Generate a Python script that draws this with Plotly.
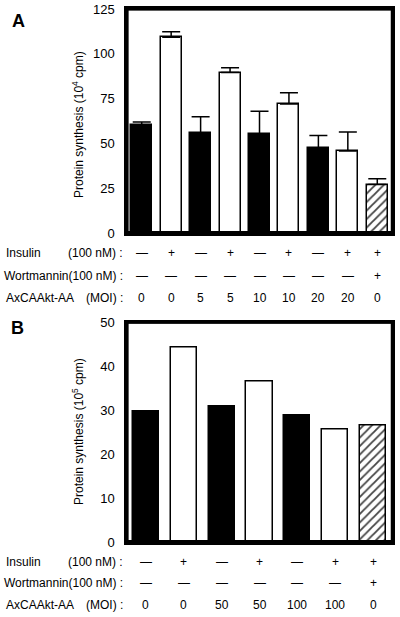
import plotly.graph_objects as go

# ---------------- data ----------------
a_values = [60, 109.3, 55.7, 89.5, 55, 72, 47.2, 45.8, 27]
a_errors = [2, 3, 9.2, 2.7, 13, 6.3, 7.2, 10.5, 3.3]
a_insulin = ["—", "+", "—", "+", "—", "+", "—", "+", "+"]
a_wort = ["—", "—", "—", "—", "—", "—", "—", "—", "+"]
a_moi = ["0", "0", "5", "5", "10", "10", "20", "20", "0"]
a_kind = ["solid", "open", "solid", "open", "solid", "open", "solid", "open", "hatch"]
a_ticks = [0, 25, 50, 75, 100, 125]

b_values = [29.7, 44.2, 30.8, 36.6, 28.8, 25.7, 26.6]
b_insulin = ["—", "+", "—", "+", "—", "+", "+"]
b_wort = ["—", "—", "—", "—", "—", "—", "+"]
b_moi = ["0", "0", "50", "50", "100", "100", "0"]
b_kind = ["solid", "open", "solid", "open", "solid", "open", "hatch"]
b_ticks = [0, 10, 20, 30, 40, 50]

FONT = "Liberation Sans, Arial, Helvetica, sans-serif"
W, H = 400, 617

def px_x(p):
    return p / W

def px_y(p):
    return 1 - p / H

fill_map = {"solid": "black", "open": "white", "hatch": "white"}
shape_map = {"solid": "", "open": "", "hatch": "/"}

fig = go.Figure()

# Panel A
fig.add_trace(go.Bar(
    x=list(range(len(a_values))), y=a_values, width=0.71,
    marker=dict(color=[fill_map[k] for k in a_kind],
                line=dict(color="black", width=1.5),
                pattern=dict(shape=[shape_map[k] for k in a_kind], fillmode="overlay",
                             fgcolor="black", fgopacity=1, size=6, solidity=0.3)),
    error_y=dict(type="data", array=a_errors, arrayminus=[0] * len(a_errors),
                 symmetric=False, color="black", thickness=1.5, width=9),
    xaxis="x", yaxis="y", showlegend=False,
))

# Panel B
fig.add_trace(go.Bar(
    x=list(range(len(b_values))), y=b_values, width=0.69,
    marker=dict(color=[fill_map[k] for k in b_kind],
                line=dict(color="black", width=1.5),
                pattern=dict(shape=[shape_map[k] for k in b_kind], fillmode="overlay",
                             fgcolor="black", fgopacity=1, size=6, solidity=0.3)),
    xaxis="x2", yaxis="y2", showlegend=False,
))

# frame geometry in pixels
FX0, FX1 = 127, 392
A_TOP, A_BOT = 9, 233
B_TOP, B_BOT = 322.5, 542

xdom = [px_x(FX0), px_x(FX1)]
ya_dom = [px_y(A_BOT), px_y(A_TOP)]
yb_dom = [px_y(B_BOT), px_y(B_TOP)]

axis_common = dict(showgrid=False, zeroline=False, showline=True, mirror="all",
                   linecolor="black", linewidth=2.5, ticks="", automargin=False)

fig.update_layout(
    width=W, height=H, margin=dict(l=0, r=0, t=0, b=0, pad=0, autoexpand=False),
    paper_bgcolor="white", plot_bgcolor="white",
    font=dict(family=FONT, color="black", size=12),
    bargap=0,
    xaxis=dict(domain=xdom, range=[-0.5, len(a_values) - 0.5], showticklabels=False,
               anchor="y", **axis_common),
    yaxis=dict(domain=ya_dom, range=[0, 125], tickvals=a_ticks, anchor="x",
               tickfont=dict(size=13), ticklabelstandoff=7, **axis_common),
    xaxis2=dict(domain=xdom, range=[-0.5, len(b_values) - 0.5], showticklabels=False,
                anchor="y2", **axis_common),
    yaxis2=dict(domain=yb_dom, range=[0, 50], tickvals=b_ticks, anchor="x2",
                tickfont=dict(size=13), ticklabelstandoff=7, **axis_common),
)

# plot frames as paper shapes
for ydom in (yb_dom, ya_dom):
    for (x0, y0, x1, y1, w) in [
        (xdom[0], ydom[1], xdom[1], ydom[1], 2.5),   # top
        (xdom[0], ydom[0], xdom[0], ydom[1], 2.5),   # left
        (xdom[1], ydom[0], xdom[1], ydom[1], 2.5),   # right
        (xdom[0], ydom[0], xdom[1], ydom[0], 3.5),   # bottom
    ]:
        fig.add_shape(type="line", xref="paper", yref="paper",
                      x0=x0, y0=y0, x1=x1, y1=y1,
                      line=dict(color="black", width=w), layer="above")

ann = []

# frame boxes drawn as bordered annotations as well (robust fallback)
BW = 2.5
for top, bot in [(A_TOP, A_BOT), (B_TOP, B_BOT)]:
    ann.append(dict(x=px_x((FX0 + FX1) / 2), y=px_y((top + bot) / 2),
                    xref="paper", yref="paper", text=" ", showarrow=False,
                    xanchor="center", yanchor="middle",
                    width=(FX1 - FX0) - BW, height=(bot - top) - BW,
                    borderpad=0, borderwidth=BW, bordercolor="black",
                    bgcolor="rgba(0,0,0,0)", font=dict(size=1)))
    ann.append(dict(x=px_x((FX0 + FX1) / 2), y=px_y(bot),
                    xref="paper", yref="paper", text=" ", showarrow=False,
                    xanchor="center", yanchor="middle",
                    width=(FX1 - FX0) - 2, height=1,
                    borderpad=0, borderwidth=1.25, bordercolor="black",
                    bgcolor="black", font=dict(size=1)))

def add_rows(xref, insulin, wort, moi, ys):
    y1, y2, y3 = ys
    for lbl, y in [("Insulin", y1), ("AxCAAkt-AA", y3)]:
        ann.append(dict(x=px_x(4), y=px_y(y), xref="paper", yref="paper", text=lbl,
                        showarrow=False, xanchor="left", yanchor="middle",
                        font=dict(size=12)))
    for right, y in [("(100 nM) :", y1), ("Wortmannin(100 nM) :", y2), ("(MOI) :", y3)]:
        ann.append(dict(x=px_x(125), y=px_y(y), xref="paper", yref="paper", text=right,
                        showarrow=False, xanchor="right", yanchor="middle",
                        font=dict(size=12)))
    for i, (a, b, c) in enumerate(zip(insulin, wort, moi)):
        for txt, y in [(a, y1), (b, y2), (c, y3)]:
            ann.append(dict(x=i, y=px_y(y), xref=xref, yref="paper", text=txt,
                            showarrow=False, xanchor="center", yanchor="middle",
                            font=dict(size=12)))

add_rows("x", a_insulin, a_wort, a_moi, (253, 275.5, 298))
add_rows("x2", b_insulin, b_wort, b_moi, (561.5, 583, 605))

# panel letters
ann.append(dict(x=px_x(18.5), y=px_y(21), xref="paper", yref="paper", text="<b>A</b>",
                showarrow=False, xanchor="center", yanchor="middle", font=dict(size=18)))
ann.append(dict(x=px_x(17.5), y=px_y(328), xref="paper", yref="paper", text="<b>B</b>",
                showarrow=False, xanchor="center", yanchor="middle", font=dict(size=18)))

# y axis titles
ann.append(dict(x=px_x(78), y=px_y(125), xref="paper", yref="paper",
                text="Protein synthesis (10<sup>4</sup> cpm)", textangle=-90,
                showarrow=False, xanchor="center", yanchor="middle", font=dict(size=12)))
ann.append(dict(x=px_x(78), y=px_y(432), xref="paper", yref="paper",
                text="Protein synthesis (10<sup>5</sup> cpm)", textangle=-90,
                showarrow=False, xanchor="center", yanchor="middle", font=dict(size=12)))

fig.update_layout(annotations=ann)

fig.write_html("out.html", config={"displayModeBar": False},
               post_script="document.body.style.margin='0';document.body.style.overflow='hidden';")
